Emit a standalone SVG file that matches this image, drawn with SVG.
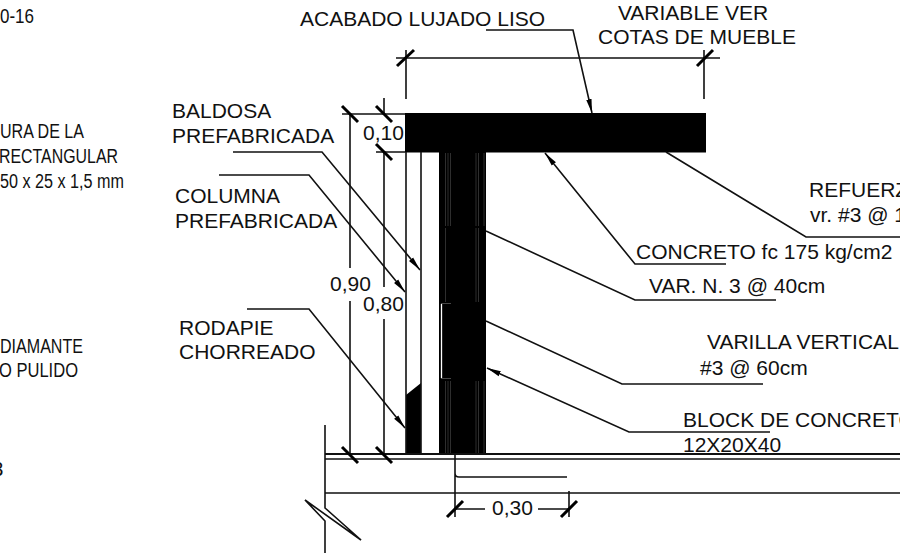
<svg xmlns="http://www.w3.org/2000/svg" width="900" height="553" viewBox="0 0 900 553">
<style>
text{font-family:"Liberation Sans",Arial,sans-serif;font-size:21px;fill:#111}
.s{font-size:20.500px}
.l{fill:none;stroke:#111;stroke-width:1.600}
.t{fill:none;stroke:#000;stroke-width:3}
.a{marker-end:url(#arr)}
.g{stroke:#3a3a3a;stroke-width:.8;fill:none}
</style>
<defs>
<marker id="arr" markerUnits="userSpaceOnUse" markerWidth="15" markerHeight="8" refX="14" refY="3.500" orient="auto"><path d="M0 0.800L14 3.500L0 6.200Z" fill="#000"/></marker>
</defs>
<rect width="900" height="553" fill="#fff"/>
<g id="section">
<rect x="405" y="113" width="301" height="39.500" fill="#000"/>
<rect x="439" y="152" width="47" height="303" fill="#000"/>
<path d="M406 395L421 383V454H406Z" fill="#000"/>
<path class="g" d="M445.500 153V226M448 153V226M450.500 153V226M476 153V226M478.500 153V226M484 153V226M445.500 228V302M476 228V302M478.500 228V302M445.500 381V454M448 381V454M450.500 381V454M476 381V454M478.500 381V454M484 381V454"/>
<path d="M441.500 304V378" stroke="#fff" stroke-width="1.300" fill="none"/>
<path d="M441 303.500H451M441 378.500H451" stroke="#666" stroke-width=".7" fill="none"/>
<path class="l" d="M406 152V454M421 152V454"/>
<path d="M325 454H900" stroke="#111" stroke-width="2"/>
<path d="M325 459H900" stroke="#111" stroke-width="1.600"/>
<path class="l" d="M325 493H900M325 425V508L361 540L305 500L325 521V553"/>
<path class="l" d="M455 454V517M455 473Q455 477 459 477H567"/>
</g>
<g id="dimensions">
<path class="l" d="M406 50V99M704 50V99M396 58H720M342 114H405M376 152H405M350 114V268M350 301V454M384 98V113M384 152V287M384 319V454M569 491V517M455 509H485M538 509H569"/>
<path class="t" d="M397 66L414 50M697 66L713 50M342 106L358 122M376 106L392 122M376 144L392 160M342 447L358 463M376 447L392 463M447 517L463 501M561 517L577 501"/>
</g>
<g id="connectors">
<path class="l a" d="M233 152H322L420 270"/>
<path class="l a" d="M219 175H309L405 292"/>
<path class="l a" d="M247 309H309L405 428"/>
<path class="l a" d="M486 30H573L592 113"/>
<path class="l a" d="M726 264H635L545 153"/>
<path class="l a" d="M770 432H629L487 368"/>
<path class="l" d="M666 152L806 237H900M486 231L635 300H776M486 321L622 384H763"/>
<path d="M683 454H806" stroke="#111" stroke-width="2.200"/>
</g>
<g id="labels">
<text x="300" y="26">ACABADO LUJADO LISO</text>
<text x="693" y="20" text-anchor="middle">VARIABLE VER</text>
<text x="697" y="44" text-anchor="middle">COTAS DE MUEBLE</text>
<text x="172" y="118">BALDOSA</text>
<text x="172" y="143">PREFABRICADA</text>
<text x="175" y="203">COLUMNA</text>
<text x="175" y="228">PREFABRICADA</text>
<text x="179" y="335">RODAPIE</text>
<text x="179" y="359">CHORREADO</text>
<text x="330" y="291">0,90</text>
<text x="363" y="311">0,80</text>
<text x="363" y="140">0,10</text>
<text x="492" y="515">0,30</text>
<text x="809" y="197">REFUERZ</text>
<text x="810" y="222">vr. #3 @ 1</text>
<text x="636" y="259">CONCRETO fc 175 kg/cm2</text>
<text x="649" y="293">VAR. N. 3 @ 40cm</text>
<text x="707" y="349">VARILLA VERTICAL</text>
<text x="700" y="375">#3 @ 60cm</text>
<text x="683" y="427">BLOCK DE CONCRETO</text>
<text x="683" y="452">12X20X40</text>
<text class="s" x="0" y="23" textLength="34" lengthAdjust="spacingAndGlyphs">0-16</text>
<text class="s" x="0" y="138" textLength="84" lengthAdjust="spacingAndGlyphs">URA DE LA</text>
<text class="s" x="-1" y="163" textLength="119" lengthAdjust="spacingAndGlyphs">RECTANGULAR</text>
<text class="s" x="0" y="188" textLength="124" lengthAdjust="spacingAndGlyphs">50 x 25 x 1,5 mm</text>
<text class="s" x="0" y="353" textLength="83" lengthAdjust="spacingAndGlyphs">DIAMANTE</text>
<text class="s" x="-1" y="377" textLength="79" lengthAdjust="spacingAndGlyphs">O PULIDO</text>
<text class="s" x="-8" y="476">3</text>
</g>
</svg>
